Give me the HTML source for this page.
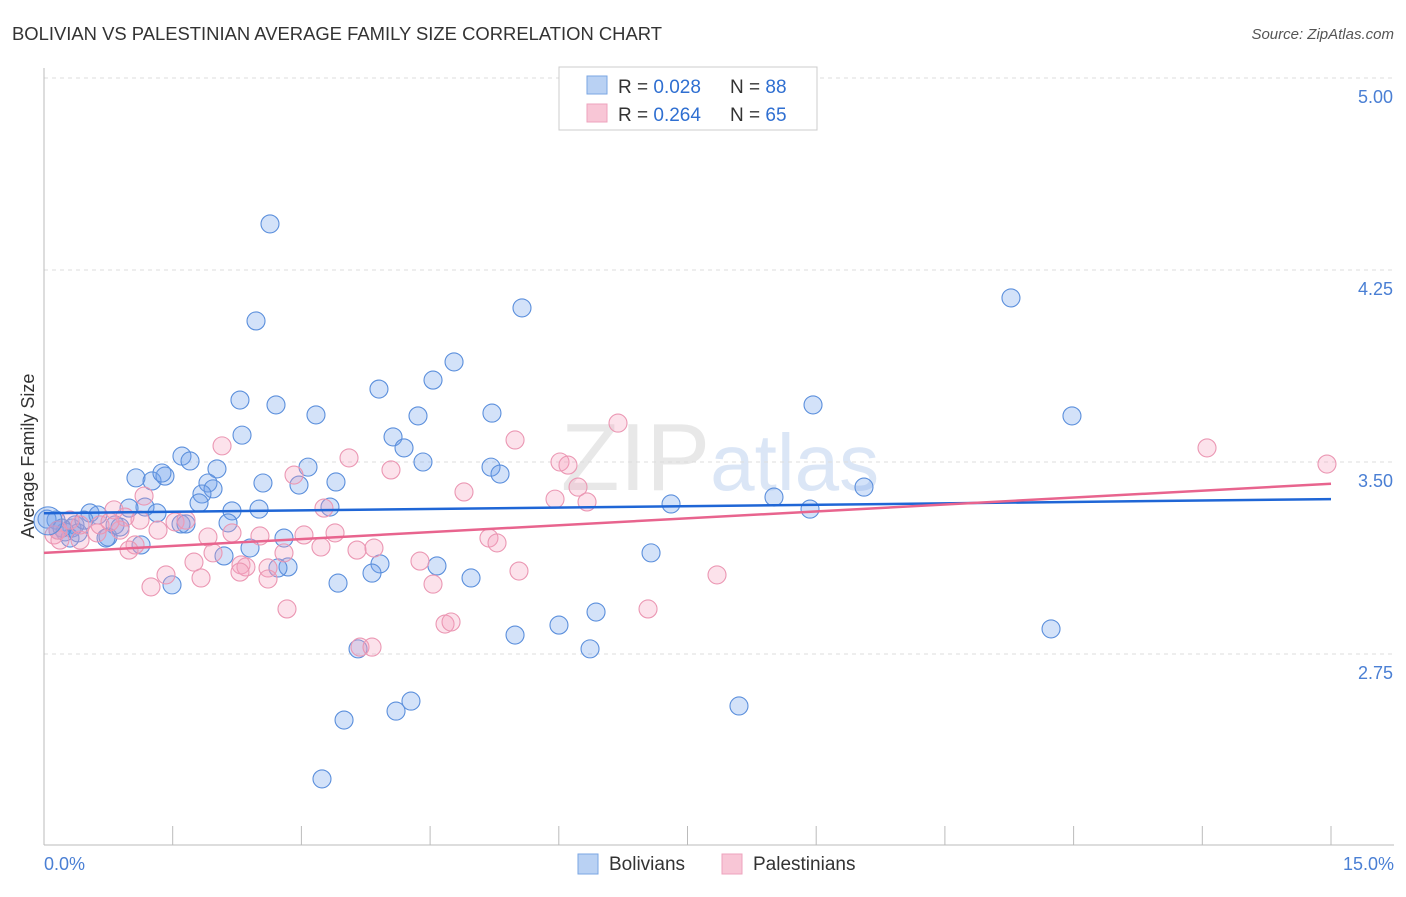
<!DOCTYPE html>
<html><head><meta charset="utf-8"><style>
body{margin:0;background:#fff;font-family:"Liberation Sans",sans-serif;}
svg text{font-family:"Liberation Sans",sans-serif;}
</style></head><body>
<svg id="chart" width="1406" height="892" viewBox="0 0 1406 892">
<text x="12" y="40" font-size="18" fill="#333" textLength="650" lengthAdjust="spacingAndGlyphs">BOLIVIAN VS PALESTINIAN AVERAGE FAMILY SIZE CORRELATION CHART</text>
<text x="1394" y="39" font-size="15" fill="#555" font-style="italic" text-anchor="end">Source: ZipAtlas.com</text>
<text x="720" y="490" font-size="96" fill="#e8e8e8" text-anchor="middle" font-family="Liberation Serif">ZIP<tspan fill="#dbe6f6" font-family="Liberation Sans" font-size="80">atlas</tspan></text>
<g id="grid"></g>
<line x1="44" y1="68" x2="44" y2="845" stroke="#bbb"/>
<line x1="44" y1="845" x2="1394" y2="845" stroke="#bbb"/>
<g id="xticks"></g>
<text x="44" y="870" font-size="18" fill="#4a7fd4">0.0%</text>
<text x="1394" y="870" font-size="18" fill="#4a7fd4" text-anchor="end">15.0%</text>
<text transform="translate(34,456) rotate(-90)" font-size="18" fill="#333" text-anchor="middle">Average Family Size</text>
<g id="pts"></g>
<g id="lines"></g>
<g>
<rect x="559" y="67" width="258" height="63" fill="#fff" stroke="#ccc"/>
<rect x="587" y="76" width="20" height="18" fill="#b9d1f3" stroke="#7aa6e3"/>
<rect x="587" y="104" width="20" height="18" fill="#f8c6d6" stroke="#eea3bd"/>
<text x="618" y="93" font-size="19" fill="#333">R = <tspan fill="#2f6fd1">0.028</tspan></text>
<text x="730" y="93" font-size="19" fill="#333">N = <tspan fill="#2f6fd1">88</tspan></text>
<text x="618" y="121" font-size="19" fill="#333">R = <tspan fill="#2f6fd1">0.264</tspan></text>
<text x="730" y="121" font-size="19" fill="#333">N = <tspan fill="#2f6fd1">65</tspan></text>
</g>
<g>
<rect x="578" y="854" width="20" height="20" fill="#b9d1f3" stroke="#7aa6e3"/>
<text x="609" y="870" font-size="19" fill="#333">Bolivians</text>
<rect x="722" y="854" width="20" height="20" fill="#f8c6d6" stroke="#eea3bd"/>
<text x="753" y="870" font-size="19" fill="#333">Palestinians</text>
</g>
</svg>
<script>
const yTicks=[5.00,4.25,3.50,2.75];
const xTickVals=[0,1.5,3,4.5,6,7.5,9,10.5,12,13.5,15];
const bluePx=[[270,224],[256,321],[522,308],[1011,298],[454,362],[433,380],[379,389],[240,400],[276,405],[316,415],[418,416],[492,413],[813,405],[1072,416],[242,435],[393,437],[404,448],[182,456],[190,461],[217,469],[308,467],[423,462],[491,467],[500,474],[136,478],[152,481],[165,476],[162,473],[263,483],[208,483],[213,489],[299,485],[336,482],[202,494],[199,503],[145,507],[129,508],[157,513],[232,511],[259,509],[330,507],[671,504],[774,497],[864,487],[810,509],[90,513],[98,515],[115,525],[181,524],[186,524],[228,523],[72,528],[75,525],[56,520],[65,532],[70,538],[78,533],[108,537],[106,538],[141,545],[284,538],[250,548],[224,556],[651,553],[288,567],[278,568],[380,564],[437,566],[372,573],[338,583],[471,578],[172,585],[596,612],[559,625],[515,635],[590,649],[358,649],[1051,629],[411,701],[396,711],[739,706],[344,720],[322,779],[58,530],[62,528],[47,519],[120,527],[84,520]];
const pinkPx=[[618,423],[222,446],[515,440],[349,458],[391,470],[560,462],[568,465],[1207,448],[1327,464],[464,492],[578,487],[144,496],[555,499],[587,502],[324,508],[294,475],[114,510],[125,517],[175,522],[186,520],[158,530],[120,530],[54,535],[60,540],[80,540],[97,533],[58,530],[208,537],[260,536],[304,535],[335,533],[489,538],[497,543],[232,533],[321,547],[213,553],[284,553],[357,550],[374,548],[135,545],[129,550],[241,565],[246,567],[268,568],[420,561],[194,562],[519,571],[166,575],[201,578],[240,572],[268,579],[433,584],[717,575],[151,587],[287,609],[648,609],[445,624],[451,622],[360,647],[372,647],[80,525],[70,520],[100,525],[110,522],[140,520]];
const blueX=bluePx.map(p=>+((p[0]-44)/85.8).toFixed(3));
const blueY=bluePx.map(p=>+(5-(p[1]-78)/256).toFixed(3));
const pinkX=pinkPx.map(p=>+((p[0]-44)/85.8).toFixed(3));
const pinkY=pinkPx.map(p=>+(5-(p[1]-78)/256).toFixed(3));
const blueTrend=[3.30,3.355];
const pinkTrend=[3.145,3.415];
const X=v=>44+v*85.8, Y=v=>78+(5-v)*256;
const NS='http://www.w3.org/2000/svg';
function mk(t,a,parent){const e=document.createElementNS(NS,t);for(const k in a)e.setAttribute(k,a[k]);parent.appendChild(e);return e;}
const grid=document.getElementById('grid');
yTicks.forEach(v=>{
 const l=mk('line',{x1:44,x2:1394,y1:Y(v),y2:Y(v),stroke:'#ddd','stroke-dasharray':'4,4'},grid);
 
 
 const t=mk('text',{x:1393,y:Y(v)+25,'font-size':18,fill:'#4a7fd4','text-anchor':'end'},grid);
 t.textContent=v.toFixed(2);
 
 
});
const xt=document.getElementById('xticks');
xTickVals.forEach(v=>{
 const l=mk('line',{x1:X(v),x2:X(v),y1:826,y2:845,stroke:'#bbb'},xt);
 
 
});
const pts=document.getElementById('pts');
blueX.forEach((x,i)=>{
 const c=mk('circle',{cx:X(x),cy:Y(blueY[i]),r:9,fill:'rgba(110,160,235,0.3)',stroke:'#5b8fdc','stroke-width':1.1},pts);
 
 
});
pinkX.forEach((x,i)=>{
 const c=mk('circle',{cx:X(x),cy:Y(pinkY[i]),r:9,fill:'rgba(245,160,190,0.3)',stroke:'#eb97b3','stroke-width':1.1},pts);
 
 
});
const big=mk('circle',{cx:48,cy:Y(3.27),r:14,fill:'rgba(110,160,235,0.3)',stroke:'#5b8fdc','stroke-width':1.1},pts);


const ln=document.getElementById('lines');
const bl=mk('line',{x1:X(0),y1:Y(blueTrend[0]),x2:X(15),y2:Y(blueTrend[1]),stroke:'#1f66d6','stroke-width':2.5},ln);


const pl=mk('line',{x1:X(0),y1:Y(pinkTrend[0]),x2:X(15),y2:Y(pinkTrend[1]),stroke:'#e8648e','stroke-width':2.5},ln);


</script>
</body></html>
